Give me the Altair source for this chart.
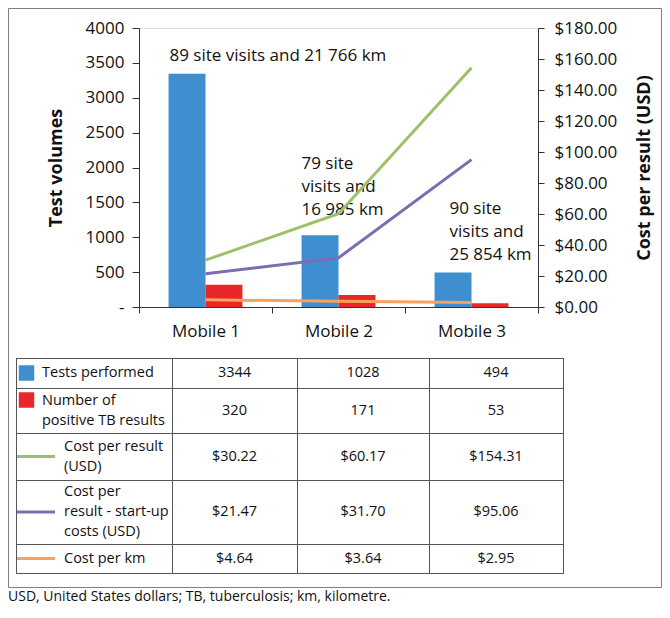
import altair as alt
import pandas as pd

# ---------------- data ----------------
mobiles = ["Mobile 1", "Mobile 2", "Mobile 3"]
tests_performed = [3344, 1028, 494]
positive_tb = [320, 171, 53]
cost_per_result = [30.22, 60.17, 154.31]
cost_per_result_startup = [21.47, 31.70, 95.06]
cost_per_km = [4.64, 3.64, 2.95]
site_notes = ["89 site visits and 21 766 km",
              "79 site\nvisits and\n16 985 km",
              "90 site\nvisits and\n25 854 km"]

bar_series = ["Tests performed", "Number of positive TB results"]
line_series = ["Cost per result (USD)", "Cost per result - start-up costs (USD)", "Cost per km"]
row_labels = ["Tests performed", "Number of\npositive TB results", "Cost per result\n(USD)",
              "Cost per\nresult - start-up\ncosts (USD)", "Cost per km"]
footnote = "USD, United States dollars; TB, tuberculosis; km, kilometre."

# ---------------- style / layout ----------------
colors = ["#3E8ED0", "#E8262B", "#9BC169", "#7E6CB2", "#F6A15D"]
FONT = "Open Sans"
TXT = "#111111"
AX = "#333333"
VIEW_W, VIEW_H = 654, 600
PAD_L, PAD_T = 131, 20
PLOT_W, PLOT_H = 399, 279
note_y = [3600, 2057, 1412]      # first-line anchor, in test-volume units
note_dx = [-36, -37, -22]
col_edges = [8, 164, 289, 421, 555]          # table layout (view px)
row_edges = [350, 380, 425, 472, 536, 565]
LINE_H = 20
FRAME_BOTTOM = 579.5
FOOT_Y = 589

color_scale = alt.Scale(domain=bar_series + line_series, range=colors)


def band():
    return alt.Scale(domain=mobiles, paddingInner=0, paddingOuter=0)


def px_x():
    return alt.Scale(domain=[0, VIEW_W], range=[-PAD_L, VIEW_W - PAD_L], nice=False, zero=False)


def px_y():
    return alt.Scale(domain=[0, VIEW_H], range=[-PAD_T, VIEW_H - PAD_T], nice=False, zero=False)


# ---------------- main chart ----------------
bar_df = pd.DataFrame({
    "mobile": mobiles * 2,
    "series": [bar_series[0]] * 3 + [bar_series[1]] * 3,
    "value": tests_performed + positive_tb,
})
line_df = pd.DataFrame({
    "mobile": mobiles * 3,
    "series": [s for s in line_series for _ in mobiles],
    "cost": cost_per_result + cost_per_result_startup + cost_per_km,
})

bars = alt.Chart(bar_df).mark_bar().encode(
    x=alt.X("mobile:N", scale=band(), axis=alt.Axis(
        orient="bottom", title=None, labelAngle=0, labelFont=FONT, labelFontSize=17,
        labelColor=TXT, labelPadding=10, ticks=True, tickBand="extent", tickSize=6,
        tickColor=AX, domainColor=AX)),
    xOffset=alt.XOffset("series:N", scale=alt.Scale(domain=bar_series, paddingInner=0, paddingOuter=0.8)),
    y=alt.Y("value:Q", scale=alt.Scale(domain=[0, 4000], nice=False), axis=alt.Axis(
        orient="left", title="Test volumes", values=list(range(0, 4001, 500)), format="d",
        labelExpr="datum.value === 0 ? '-' : datum.label", grid=False, tickSize=7,
        labelPadding=8, labelFlush=False, labelOverlap=False, titlePadding=20,
        titleFont=FONT, titleFontSize=18, titleFontWeight="bold", titleColor=TXT,
        labelFont=FONT, labelFontSize=17, labelColor=TXT, tickColor=AX, domainColor=AX)),
    color=alt.Color("series:N", scale=color_scale, legend=None),
)

lines = alt.Chart(line_df).mark_line(strokeWidth=3).encode(
    x=alt.X("mobile:N", scale=band(), axis=None),
    y=alt.Y("cost:Q", scale=alt.Scale(domain=[0, 180], nice=False), axis=alt.Axis(
        orient="right", title="Cost per result (USD)", values=list(range(0, 181, 20)),
        format="$.2f", grid=False, tickSize=6, labelPadding=10, labelFlush=False,
        labelOverlap=False, titleAngle=270, titleBaseline="top", titlePadding=19,
        titleFont=FONT, titleFontSize=18, titleFontWeight="bold", titleColor=TXT,
        labelFont=FONT, labelFontSize=17, labelColor=TXT, tickColor=AX, domainColor=AX)),
    color=alt.Color("series:N", scale=color_scale, legend=None),
)

note_df = pd.DataFrame({"mobile": mobiles, "note": site_notes, "y": note_y})
notes = [
    alt.Chart(note_df.iloc[[i]]).mark_text(
        align="left", baseline="middle", dx=note_dx[i], lineBreak="\n", lineHeight=23,
        font=FONT, fontSize=17, color=TXT).encode(
        x=alt.X("mobile:N", scale=band(), axis=None),
        y=alt.Y("y:Q", scale=alt.Scale(domain=[0, 4000], nice=False), axis=None),
        text="note:N")
    for i in range(3)
]

# ---------------- table ----------------
grid_recs = []
for e in row_edges:
    grid_recs.append({"x": col_edges[0], "x2": col_edges[-1] + 1, "y": e + 0.5, "y2": e + 0.5})
for e in col_edges:
    grid_recs.append({"x": e + 0.5, "x2": e + 0.5, "y": row_edges[0], "y2": row_edges[-1] + 1})
grid = alt.Chart(pd.DataFrame(grid_recs)).mark_rule(color="#555555", strokeWidth=1).encode(
    x=alt.X("x:Q", scale=px_x(), axis=None), x2="x2:Q",
    y=alt.Y("y:Q", scale=px_y(), axis=None), y2="y2:Q")

row_series = bar_series + line_series
row_centers = [(row_edges[i] + row_edges[i + 1]) / 2 for i in range(5)]
row_vals = [tests_performed, positive_tb, cost_per_result, cost_per_result_startup, cost_per_km]

sq_df = pd.DataFrame({"series": bar_series, "x": [18.5, 18.5], "y": [row_centers[0], 392]})
squares = alt.Chart(sq_df).mark_square(size=240, opacity=1).encode(
    x=alt.X("x:Q", scale=px_x(), axis=None), y=alt.Y("y:Q", scale=px_y(), axis=None),
    color=alt.Color("series:N", scale=color_scale, legend=None))

ln_df = pd.DataFrame({"series": line_series, "x": [9] * 3, "x2": [47] * 3, "y": row_centers[2:]})
swatch_lines = alt.Chart(ln_df).mark_rule(strokeWidth=3).encode(
    x=alt.X("x:Q", scale=px_x(), axis=None), x2="x2:Q",
    y=alt.Y("y:Q", scale=px_y(), axis=None),
    color=alt.Color("series:N", scale=color_scale, legend=None))

lab_df = pd.DataFrame({
    "label": row_labels,
    "x": [34, 34, 56, 56, 56],
    "y": [row_centers[i] - (row_labels[i].count("\n")) * LINE_H / 2 for i in range(5)],
})
labels = alt.Chart(lab_df).mark_text(
    align="left", baseline="middle", lineBreak="\n", lineHeight=LINE_H,
    font=FONT, fontSize=14.5, color=TXT).encode(
    x=alt.X("x:Q", scale=px_x(), axis=None), y=alt.Y("y:Q", scale=px_y(), axis=None),
    text="label:N")

val_recs = []
for r in range(5):
    for c in range(3):
        v = row_vals[r][c]
        txt = str(v) if r < 2 else f"${v:.2f}"
        val_recs.append({"x": (col_edges[c + 1] + col_edges[c + 2]) / 2, "y": row_centers[r], "t": txt})
values = alt.Chart(pd.DataFrame(val_recs)).mark_text(
    align="center", baseline="middle", font=FONT, fontSize=14.5, color=TXT).encode(
    x=alt.X("x:Q", scale=px_x(), axis=None), y=alt.Y("y:Q", scale=px_y(), axis=None),
    text="t:N")

frame = alt.Chart(pd.DataFrame({"x": [0.5], "x2": [VIEW_W - 0.5], "y": [0.5], "y2": [FRAME_BOTTOM]})).mark_rect(
    fillOpacity=0, stroke="#7f7f7f", strokeWidth=1).encode(
    x=alt.X("x:Q", scale=px_x(), axis=None), x2="x2:Q",
    y=alt.Y("y:Q", scale=px_y(), axis=None), y2="y2:Q")

foot = alt.Chart(pd.DataFrame({"x": [0], "y": [FOOT_Y], "t": [footnote]})).mark_text(
    align="left", baseline="middle", font=FONT, fontSize=14, color=TXT).encode(
    x=alt.X("x:Q", scale=px_x(), axis=None), y=alt.Y("y:Q", scale=px_y(), axis=None),
    text="t:N")

chart = alt.layer(
    frame, bars, *notes, lines, grid, squares, swatch_lines, labels, values, foot
).resolve_scale(x="independent", y="independent").properties(
    width=PLOT_W, height=PLOT_H,
    padding={"left": PAD_L, "top": PAD_T, "right": VIEW_W - PAD_L - PLOT_W,
             "bottom": VIEW_H - PAD_T - PLOT_H},
    autosize=alt.AutoSizeParams(type="none"),
).configure_view(stroke=None).configure(font=FONT)

chart.save("out.html", embed_options={"renderer": "svg", "actions": False})
